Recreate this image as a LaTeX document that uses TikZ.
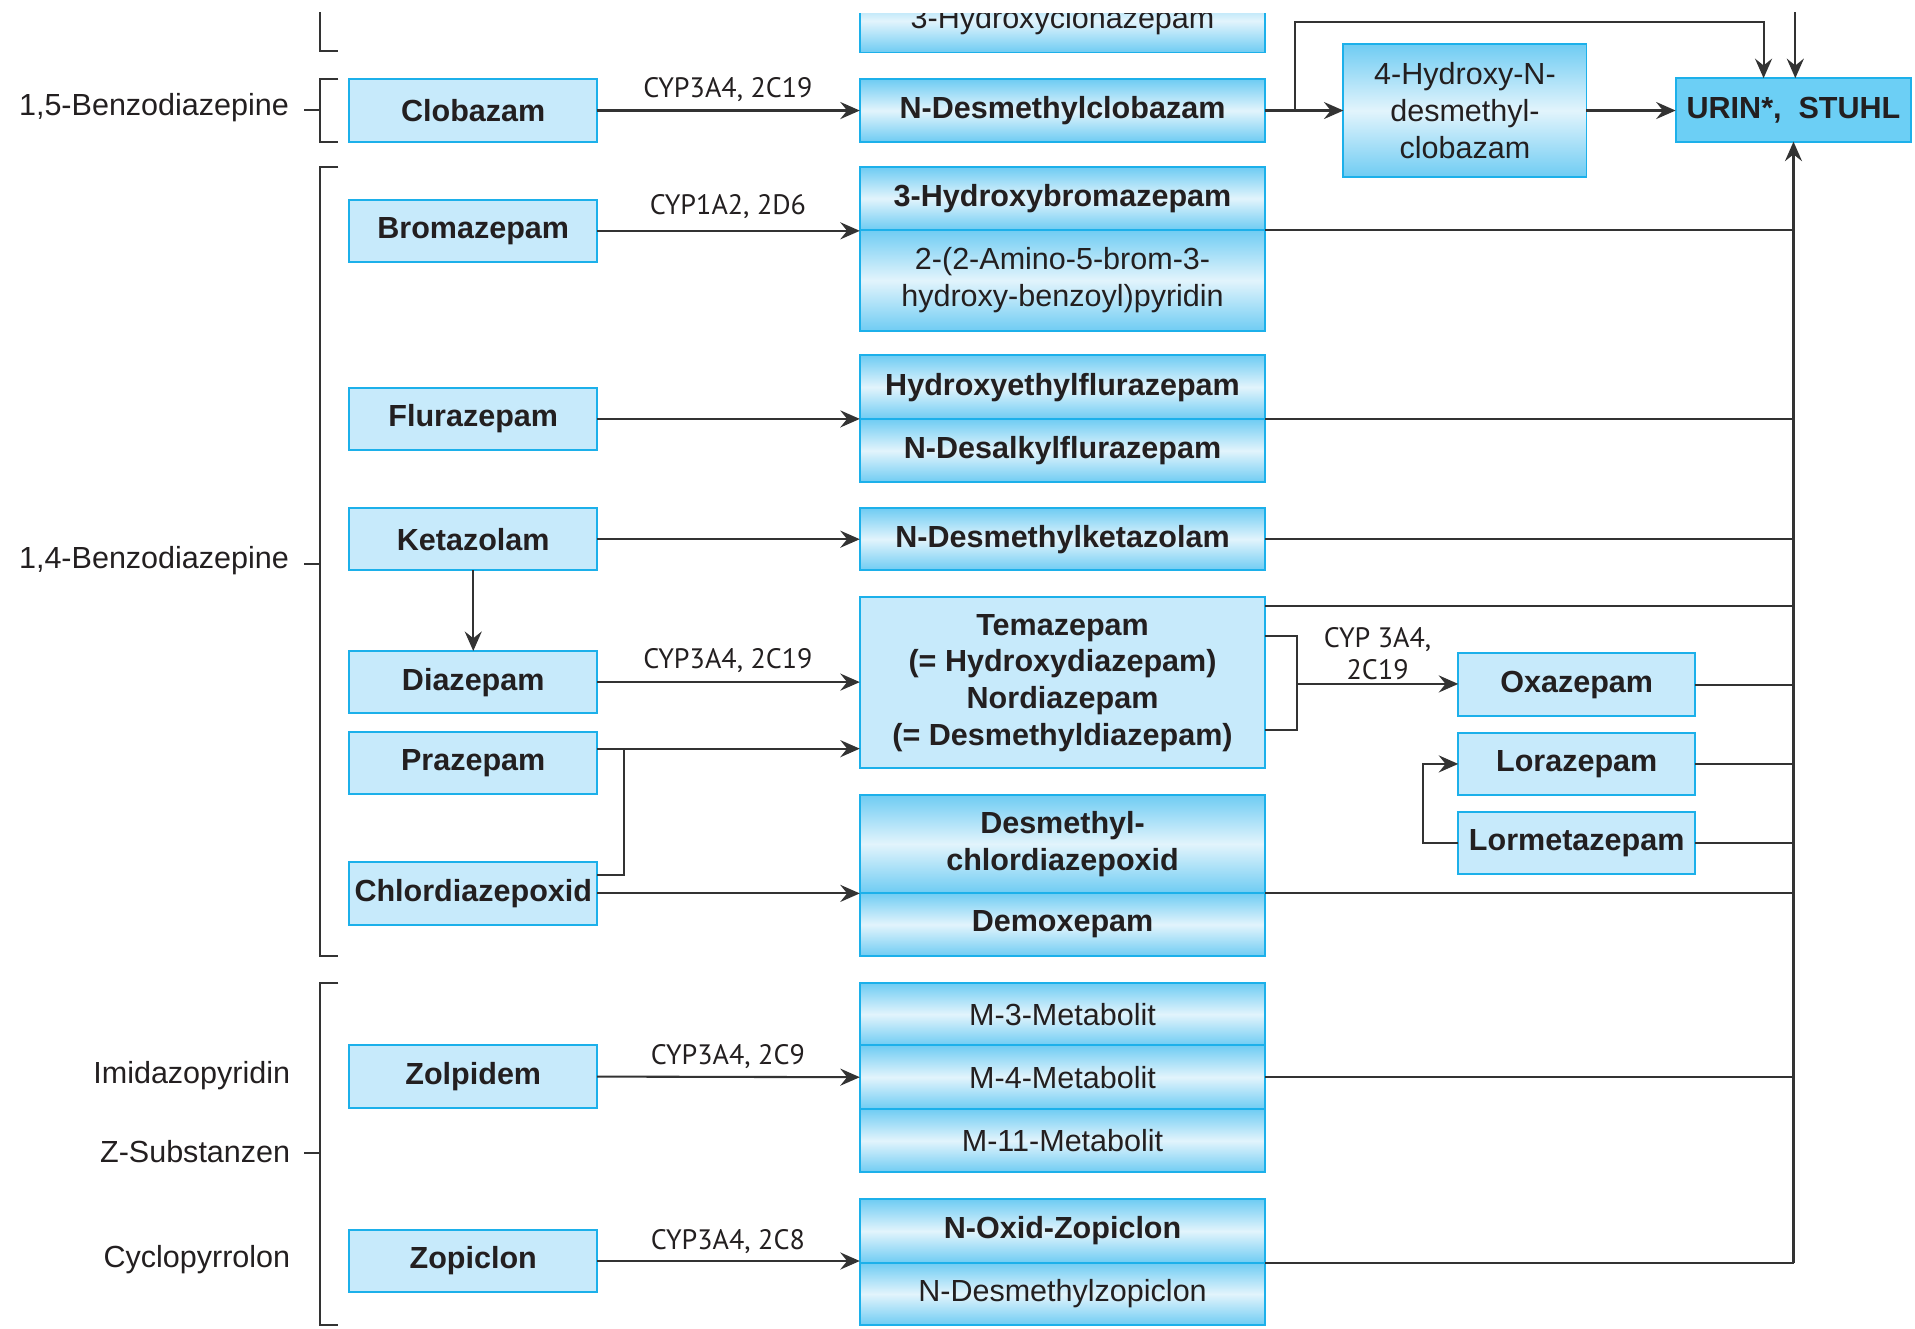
\documentclass[tikz,border=0pt]{standalone}
\usepackage{fontspec}
\setmainfont{Liberation Sans}
\newfontfamily\cypfont{PT Sans}
\usetikzlibrary{arrows.meta,calc}
\definecolor{bord}{HTML}{1CB0EA}
\definecolor{lb}{HTML}{C7EAFB}
\definecolor{gt}{HTML}{6FCCF3}
\definecolor{gm}{HTML}{E2F4FC}
\definecolor{urc}{HTML}{6CCFF5}
\definecolor{lc}{HTML}{333333}
\definecolor{tc}{HTML}{231F20}
\tikzset{
  base/.style={draw=bord, line width=0.8pt, inner sep=0pt, outer sep=0pt, align=center, text=tc,
    font=\fontsize{12.5}{15}\selectfont},
  bx/.style={base, font=\fontsize{12.5}{15}\selectfont\bfseries},
  flat/.style={fill=lb},
  grad/.style={top color=gt, bottom color=gt, middle color=gm},
  lw/.style={minimum width=101.5pt, minimum height=25.5pt},
  mw/.style={minimum width=166pt},
  conn/.style={draw=lc, line width=0.85pt},
  arr/.style={conn, -{Stealth[length=8pt,width=7pt,inset=2.8pt]}},
  cyp/.style={text=tc, inner sep=0pt, align=center, font=\cypfont\fontsize{11.5}{13}\selectfont},
  cat/.style={text=tc, inner sep=0pt, anchor=east, font=\fontsize{12.5}{15}\selectfont},
}
\begin{document}
\begin{tikzpicture}[x=0.5pt, y=-0.5pt]
\useasboundingbox (0,0) rectangle (1568,1088);

% ---------- brackets ----------
\draw[conn] (262,10) -- (262,42) -- (277,42);
\draw[conn] (277,65) -- (262,65) -- (262,116) -- (277,116);
\draw[conn] (249,90) -- (262,90);
\draw[conn] (277,137) -- (262,137) -- (262,783) -- (277,783);
\draw[conn] (249,462) -- (262,462);
\draw[conn] (277,805) -- (262,805) -- (262,1085) -- (277,1085);
\draw[conn] (249,944) -- (262,944);

\node[cat] (c15) at (237,88) {1,5-Benzodiazepine};
\node[cat] (c14) at (237,459) {1,4-Benzodiazepine};
\node[cat] (cim) at (238,881) {Imidazopyridin};
\node[cat] (cz) at (238,943) {Z-Substanzen};
\node[cat] (ccy) at (238,1031) {Cyclopyrrolon};

% ---------- left boxes ----------
\node[bx, flat, lw] (clob) at (387.5,90.5) {Clobazam};
\node[bx, flat, lw] (brom) at (387.5,189) {Bromazepam};
\node[bx, flat, lw] (flur) at (387.5,343) {Flurazepam};
\node[bx, flat, lw] (keta) at (387.5,441.5) {Ketazolam};
\node[bx, flat, lw] (dia) at (387.5,558.5) {Diazepam};
\node[bx, flat, lw] (pra) at (387.5,624.5) {Prazepam};
\node[bx, flat, lw] (chl) at (387.5,731.5) {Chlordiazepoxid};
\node[bx, flat, lw] (zol) at (387.5,881.5) {Zolpidem};
\node[bx, flat, lw] (zopi) at (387.5,1032.5) {Zopiclon};

% ---------- middle boxes ----------
\begin{scope}
\clip (690,11) rectangle (1050,60);
\node[base, grad, mw, minimum height=26pt] (hcl) at (870,17) {3-Hydroxyclonazepam};
\end{scope}
\node[bx, grad, mw, minimum height=25.5pt] (ndc) at (870,90.5) {N-Desmethylclobazam};
\node[bx, grad, mw, minimum height=25.5pt] (bro1) at (870,162.5) {3-Hydroxybromazepam};
\node[base, grad, mw, minimum height=41.5pt] (bro2) at (870,229.5) {2-(2-Amino-5-brom-3-\\hydroxy-benzoyl)pyridin};
\node[bx, grad, mw, minimum height=26pt] (flu1) at (870,317) {Hydroxyethylflurazepam};
\node[bx, grad, mw, minimum height=26pt] (flu2) at (870,369) {N-Desalkylflurazepam};
\node[bx, grad, mw, minimum height=25.5pt] (nket) at (870,441.5) {N-Desmethylketazolam};
\node[bx, flat, mw, minimum height=70pt] (tema) at (870,559) {Temazepam\\(= Hydroxydiazepam)\\Nordiazepam\\(= Desmethyldiazepam)};
\node[bx, grad, mw, minimum height=40pt] (dmc) at (870,691) {Desmethyl-\\chlordiazepoxid};
\node[bx, grad, mw, minimum height=26pt] (demo) at (870,757) {Demoxepam};
\node[base, grad, mw, minimum height=25.5pt] (m3) at (870,830.5) {M-3-Metabolit};
\node[base, grad, mw, minimum height=26pt] (m4) at (870,882) {M-4-Metabolit};
\node[base, grad, mw, minimum height=26pt] (m11) at (870,934) {M-11-Metabolit};
\node[bx, grad, mw, minimum height=26pt] (zo1) at (870,1008) {N-Oxid-Zopiclon};
\node[base, grad, mw, minimum height=25.5pt] (zo2) at (870,1059.5) {N-Desmethylzopiclon};

% ---------- right boxes ----------
\node[base, grad, minimum width=99.5pt, minimum height=54.5pt] (hyd) at (1199.5,90.5) {4-Hydroxy-N-\\desmethyl-\\clobazam};
\node[bx, fill=urc, minimum width=96.5pt, minimum height=26pt] (urin) at (1468.5,90) {URIN*,\ \ STUHL};
\node[bx, flat, minimum width=97pt, minimum height=25.5pt] (oxa) at (1291,560.5) {Oxazepam};
\node[bx, flat, minimum width=97pt, minimum height=25.5pt] (lora) at (1291,625.5) {Lorazepam};
\node[bx, flat, minimum width=97pt, minimum height=25.5pt] (lorm) at (1291,690.5) {Lormetazepam};

% ---------- CYP labels ----------
\node[cyp] (l1) at (596,73) {CYP3A4, 2C19};
\node[cyp] (l2) at (596,169) {CYP1A2, 2D6};
\node[cyp] (l3) at (596,541) {CYP3A4, 2C19};
\node[cyp] (l4) at (596,865) {CYP3A4, 2C9};
\node[cyp] (l5) at (596,1017) {CYP3A4, 2C8};
\node[cyp] (l6) at (1128,535) {CYP 3A4,\\2C19};

% ---------- connectors: left to middle ----------
\draw[arr] (clob.east) -- (ndc.west);
\draw[arr] (brom.east) -- (brom.east -| bro1.south west);
\draw[arr] (flur.east) -- (flur.east -| flu1.south west);
\draw[arr] (keta.east) -- (nket.west);
\draw[arr] (keta.south) -- (dia.north);
\draw[arr] (dia.east) -- (dia.east -| tema.west);
\coordinate (praout) at ([yshift=5.75pt]pra.east);
\draw[arr] (praout) -- (praout -| tema.west);
\draw[conn] ([yshift=7.5pt]chl.east) -- ++(22,0) |- (praout);
\draw[arr] (chl.east) -- (chl.east -| dmc.south west);
\draw[arr] (zol.east) -- (m4.west);
\draw[arr] (zopi.east) -- (zopi.east -| zo1.south west);

% ---------- clobazam branch ----------
\draw[arr] (ndc.east) -- (hyd.west);
\draw[arr] (ndc.east) -- ++(24,0) |- ([xshift=-12.25pt]urin.north |- 0,18) -- ([xshift=-12.25pt]urin.north);
\draw[arr] (hyd.east) -- (hyd.east -| urin.west);
\coordinate (topin) at ([xshift=0.75pt]urin.north |- 0,10);
\draw[arr] (topin) -- (topin |- urin.north);

% ---------- temazepam to oxazepam ----------
\coordinate (tb) at (1062,560);
\draw[conn] ([yshift=19pt]tema.east) -| (tb) |- ([yshift=-19.5pt]tema.east);
\draw[arr] (tb) -- (tb -| oxa.west);
\draw[arr] (lorm.west) -- ++(-29,0) |- (lora.west);

% ---------- collector to URIN ----------
\draw[arr] (zo1.south east -| urin.south) -- (urin.south);
\draw[conn] (bro1.south east) -- (bro1.south east -| urin.south);
\draw[conn] (flu1.south east) -- (flu1.south east -| urin.south);
\draw[conn] (nket.east) -- (nket.east -| urin.south);
\draw[conn] ([yshift=-3.5pt]tema.north east) -- ([yshift=-3.5pt]tema.north east -| urin.south);
\draw[conn] (oxa.east) -- (oxa.east -| urin.south);
\draw[conn] (lora.east) -- (lora.east -| urin.south);
\draw[conn] (lorm.east) -- (lorm.east -| urin.south);
\draw[conn] (dmc.south east) -- (dmc.south east -| urin.south);
\draw[conn] (m4.east) -- (m4.east -| urin.south);
\draw[conn] (zo1.south east) -- (zo1.south east -| urin.south);
\end{tikzpicture}
\end{document}
